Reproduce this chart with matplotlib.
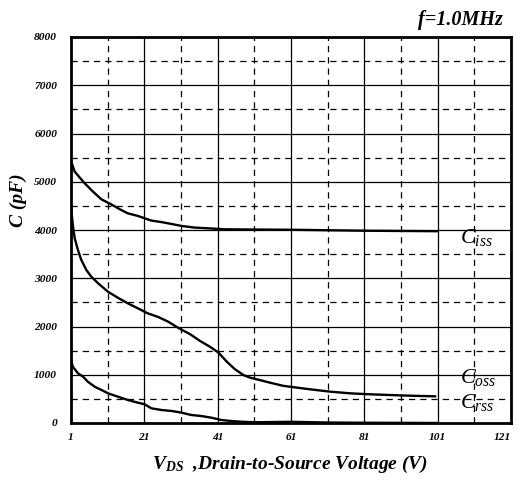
import matplotlib
matplotlib.use("Agg")
import matplotlib.pyplot as plt

plt.rcParams['mathtext.fontset'] = 'custom'
plt.rcParams['mathtext.rm'] = 'Liberation Serif'
plt.rcParams['mathtext.it'] = 'Liberation Serif:italic'
plt.rcParams['mathtext.bf'] = 'Liberation Serif:bold'
plt.rcParams['mathtext.bfit'] = 'Liberation Serif:bold:italic'

# Data (V_DS in volts, capacitance in pF)
vds_ciss = [1.0, 2.0, 4.7, 7.0, 9.3, 12.0, 14.3, 16.5, 19.3, 22.9, 25.6, 28.4, 31.1,
            34.7, 38.4, 42.9, 51, 61, 71, 81, 91, 101]
ciss = [5430, 5210, 4970, 4795, 4635, 4530, 4430, 4345, 4290, 4195, 4165, 4125, 4085,
        4050, 4035, 4015, 4010, 4005, 3995, 3985, 3980, 3975]

vds_coss = [1.0, 1.5, 2.0, 2.9, 3.8, 5.2, 6.5, 8.4, 11.1, 13.8, 16.5, 19.3, 22.0, 24.7,
            27.5, 30.5, 33.5, 36.2, 38.9, 41.2, 43.5, 45.7, 48.0, 49.8, 52.5, 55.3,
            58.9, 60.7, 66.2, 71.6, 77.1, 82.5, 88.0, 93.4, 100.3]
coss = [4480, 4100, 3830, 3585, 3380, 3170, 3035, 2895, 2720, 2595, 2480, 2375, 2270,
        2200, 2100, 1960, 1840, 1700, 1580, 1460, 1270, 1115, 995, 940, 890, 835,
        770, 752, 698, 650, 615, 595, 580, 566, 553]

vds_crss = [1.0, 1.5, 2.9, 4.3, 5.6, 7.5, 9.3, 11.1, 13.8, 16.5, 19.3, 21.1, 22.9, 25.6,
            28.4, 31.1, 33.8, 36.5, 39.3, 42.0, 44.7, 47.4, 51, 61, 71, 81, 91, 101]
crss = [1305, 1165, 1030, 960, 855, 750, 685, 615, 545, 477, 420, 388, 305, 270,
        250, 215, 166, 145, 110, 62, 41, 27, 15, 25, 10, 5, 3, 0]

xticks = [1, 21, 41, 61, 81, 101, 121]
yticks = [0, 1000, 2000, 3000, 4000, 5000, 6000, 7000, 8000]

fig = plt.figure(figsize=(5.18, 4.78), dpi=100)
ax = fig.add_axes([71/518, 1-423/478, 440/518, 386/478])

ax.set_xlim(1, 121)
ax.set_ylim(0, 8000)
ax.set_xticks(xticks)
ax.set_yticks(yticks)
ax.set_xticks([11, 31, 51, 71, 91, 111], minor=True)
ax.set_yticks([500, 1500, 2500, 3500, 4500, 5500, 6500, 7500], minor=True)
ax.grid(which='major', color='black', linewidth=0.9, linestyle='-')
ax.grid(which='minor', color='black', linewidth=0.9, linestyle=(0, (5, 4)))
ax.tick_params(which='both', length=0)
ax.set_axisbelow(True)

tfont = dict(family='Liberation Serif', weight='bold', style='italic', size=8.2)
ax.set_xticklabels([str(v) for v in xticks], fontdict=tfont)
ax.set_yticklabels([str(v) for v in yticks], fontdict=tfont)
ax.get_xticklabels()[-1].set_horizontalalignment('right')
ax.get_xticklabels()[-1].set_x(121)
ax.tick_params(axis='x', pad=7)
ax.tick_params(axis='y', pad=10)

for s in ax.spines.values():
    s.set_linewidth(2)
    s.set_color('black')

ax.plot(vds_ciss, ciss, color='black', lw=1.7, solid_joinstyle='round')
ax.plot(vds_coss, coss, color='black', lw=1.7, solid_joinstyle='round')
ax.plot(vds_crss, crss, color='black', lw=1.7, solid_joinstyle='round')

lab = dict(fontsize=16, color='black', ha='left', va='center')
ax.text(107.0, 3850, r'$C_{iss}$', **lab)
ax.text(107.0, 950, r'$C_{oss}$', **lab)
ax.text(107.0, 420, r'$C_{rss}$', **lab)

fig.text(503/518, 1-20/478, 'f=1.0MHz', family='Liberation Serif', weight='bold',
         style='italic', fontsize=14.5, ha='right', va='center')
fig.text(18/518, 1-200/478, 'C (pF)', family='Liberation Serif', weight='bold',
         style='italic', fontsize=14, ha='center', va='center', rotation=90)
fig.text(290/518, 1-464/478, r'$\mathbfit{V}_{\mathbfit{DS}}$  ,Drain-to-Source Voltage (V)',
         family='Liberation Serif', weight='bold', style='italic', fontsize=14,
         ha='center', va='center')

fig.savefig('out.png', dpi=100)
